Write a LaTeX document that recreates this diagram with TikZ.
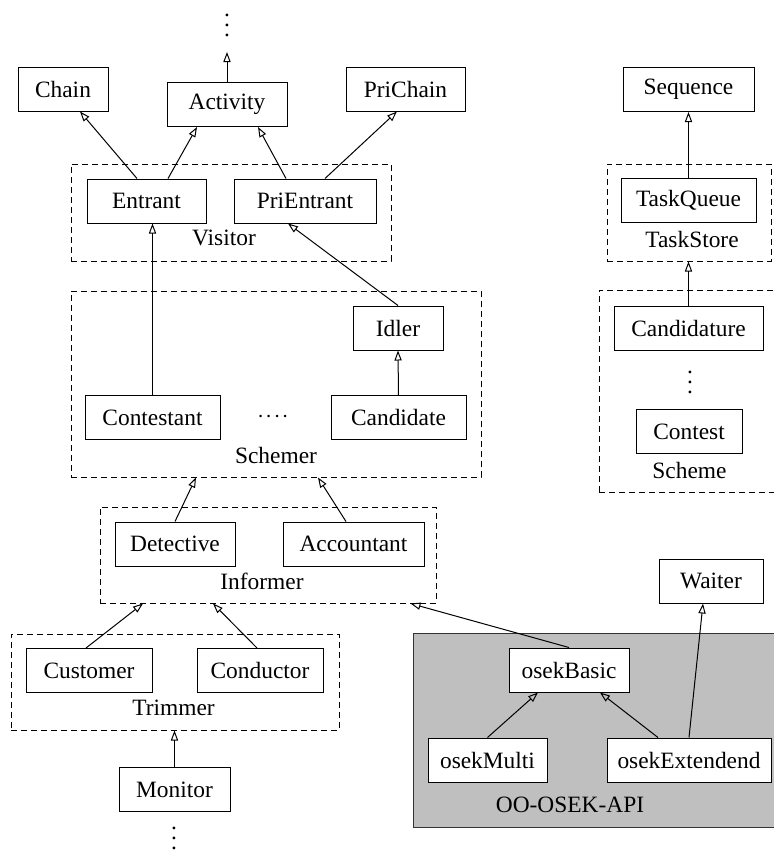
\documentclass[tikz,border=0pt]{standalone}
\usepackage{fontspec}
\setmainfont{Liberation Serif}
\usetikzlibrary{arrows.meta,calc}
\newcommand{\vdotz}{\vbox{\baselineskip5pt\lineskiplimit-10pt\hbox{.}\hbox{.}\hbox{.}}}

\begin{document}
\begin{tikzpicture}[x=0.5pt,y=-0.5pt,
  font=\fontsize{11.7}{14}\selectfont,
  cls/.style={draw,line width=0.5pt,fill=white,inner sep=0pt,minimum height=22pt},
  grp/.style={draw,dash pattern=on 3pt off 2pt,line width=0.5pt,inner sep=0pt},
  lbl/.style={inner sep=0pt},
  inh/.style={-{Triangle[open,length=5pt,width=3.6pt]},line width=0.5pt}]
  \useasboundingbox (0,0) rectangle (773,853);

  % Groups
  \node[grp,minimum width=160pt,minimum height=48.5pt] (Visitor) at (231,212.5) {};
  \node[grp,minimum width=205pt,minimum height=93pt] (Schemer) at (276,384) {};
  \node[grp,minimum width=168pt,minimum height=48pt] (Informer) at (268,555) {};
  \node[grp,minimum width=164pt,minimum height=48pt] (Trimmer) at (175,682) {};
  \node[grp,minimum width=82pt,minimum height=48.5pt] (TaskStore) at (689,212.5) {};
  \node[grp,minimum width=100.5pt,minimum height=101pt] (Scheme) at (699.5,391) {};
  \node[draw=black!80,fill=black!25,line width=0.5pt,inner sep=0pt,
    minimum width=193.5pt,minimum height=97pt] (OSEK) at (606.5,730) {};

  \node[lbl] at (224,238) {Visitor};
  \node[lbl] at (276,455) {Schemer};
  \node[lbl] at (262,581.5) {Informer};
  \node[lbl] at (173.5,707.5) {Trimmer};
  \node[lbl] at (692,239.5) {TaskStore};
  \node[lbl] at (689.5,470.5) {Scheme};
  \node[lbl] at (570,804.5) {OO-OSEK-API};

  % Classes
  \node[cls,minimum width=45pt] (Chain) at (63,89) {Chain};
  \node[cls,minimum width=60pt] (Activity) at (227,104.5) {Activity};
  \node[cls,minimum width=59.5pt] (PriChain) at (405.5,89) {PriChain};
  \node[cls,minimum width=59.5pt] (Entrant) at (146.5,201) {Entrant};
  \node[cls,minimum width=71pt] (PriEntrant) at (305,201) {PriEntrant};
  \node[cls,minimum width=65.5pt] (Sequence) at (688.5,89.5) {Sequence};
  \node[cls,minimum width=67.5pt] (TaskQueue) at (688.5,200.5) {TaskQueue};
  \node[cls,minimum width=45pt] (Idler) at (398,328) {Idler};
  \node[cls,minimum width=67.5pt] (Contestant) at (152.5,417.5) {Contestant};
  \node[cls,minimum width=67.5pt] (Candidate) at (398.5,417.5) {Candidate};
  \node[cls,minimum width=74.5pt] (Candidature) at (688.5,328) {Candidature};
  \node[cls,minimum width=53pt] (Contest) at (689,431.5) {Contest};
  \node[cls,minimum width=60pt] (Detective) at (175,544) {Detective};
  \node[cls,minimum width=70.5pt] (Accountant) at (353.5,544) {Accountant};
  \node[cls,minimum width=52pt] (Waiter) at (711,581) {Waiter};
  \node[cls,minimum width=60pt] (osekBasic) at (569,670) {osekBasic};
  \node[cls,minimum width=59.5pt] (osekMulti) at (487.5,760) {osekMulti};
  \node[cls,minimum width=82pt] (osekExtendend) at (689,760) {osekExtendend};
  \node[cls,minimum width=63pt] (Customer) at (89,670.5) {Customer};
  \node[cls,minimum width=63pt] (Conductor) at (260,670.5) {Conductor};
  \node[cls,minimum width=55.5pt] (Monitor) at (174.5,789.5) {Monitor};

  % Dots
  \node[lbl] (topdots) at (227,25) {\vdotz};
  \node[lbl] (seqdots) at (690,382) {\vdotz};
  \node[lbl] (botdots) at (174,838) {\vdotz};
  \node[lbl] (hdots) at (273,417) {${\cdot}\mkern1.2mu{\cdot}\mkern1.2mu{\cdot}\mkern1.2mu{\cdot}$};
  \coordinate (actTop) at (227,52);

  % Inheritance arrows
  \draw[inh] (Activity.north) -- (actTop);
  \draw[inh] ([xshift=-4.75pt]Entrant.north) -- ([xshift=8.5pt]Chain.south);
  \draw[inh] ([xshift=10.75pt]Entrant.north) -- ([xshift=-15pt]Activity.south);
  \draw[inh] ([xshift=-9.5pt]PriEntrant.north) -- ([xshift=15.5pt]Activity.south);
  \draw[inh] ([xshift=10pt]PriEntrant.north) -- ([xshift=-4.25pt]PriChain.south);
  \draw[inh] (Contestant.north) -- (Contestant.north |- Entrant.south);
  \draw[inh] (Idler.north) -- ([xshift=-8.5pt]PriEntrant.south);
  \draw[inh] (Candidate.north) -- (Idler.south);
  \draw[inh] (TaskQueue.north) -- (Sequence.south);
  \draw[inh] (Candidature.north) -- (Candidature.north |- TaskStore.south);
  \draw[inh] (Detective.north) -- ([xshift=-40pt]Schemer.south);
  \draw[inh] ([xshift=-3.75pt]Accountant.north) -- ([xshift=21pt]Schemer.south);
  \draw[inh] ([xshift=-1.5pt]Customer.north) -- ([xshift=-62.5pt]Informer.south);
  \draw[inh] ([xshift=-1.5pt]Conductor.north) -- ([xshift=-27.5pt]Informer.south);
  \draw[inh] (Monitor.north) -- (Monitor.north |- Trimmer.south);
  \draw[inh] (osekBasic.north) -- ([xshift=-13pt]Informer.south east);
  \draw[inh] (osekMulti.north) -- ([xshift=-15.5pt]osekBasic.south);
  \draw[inh] ([xshift=-15.5pt]osekExtendend.north) -- ([xshift=15.5pt]osekBasic.south);
  \draw[inh] (osekExtendend.north) -- ([xshift=-4pt]Waiter.south);
\end{tikzpicture}
\end{document}
